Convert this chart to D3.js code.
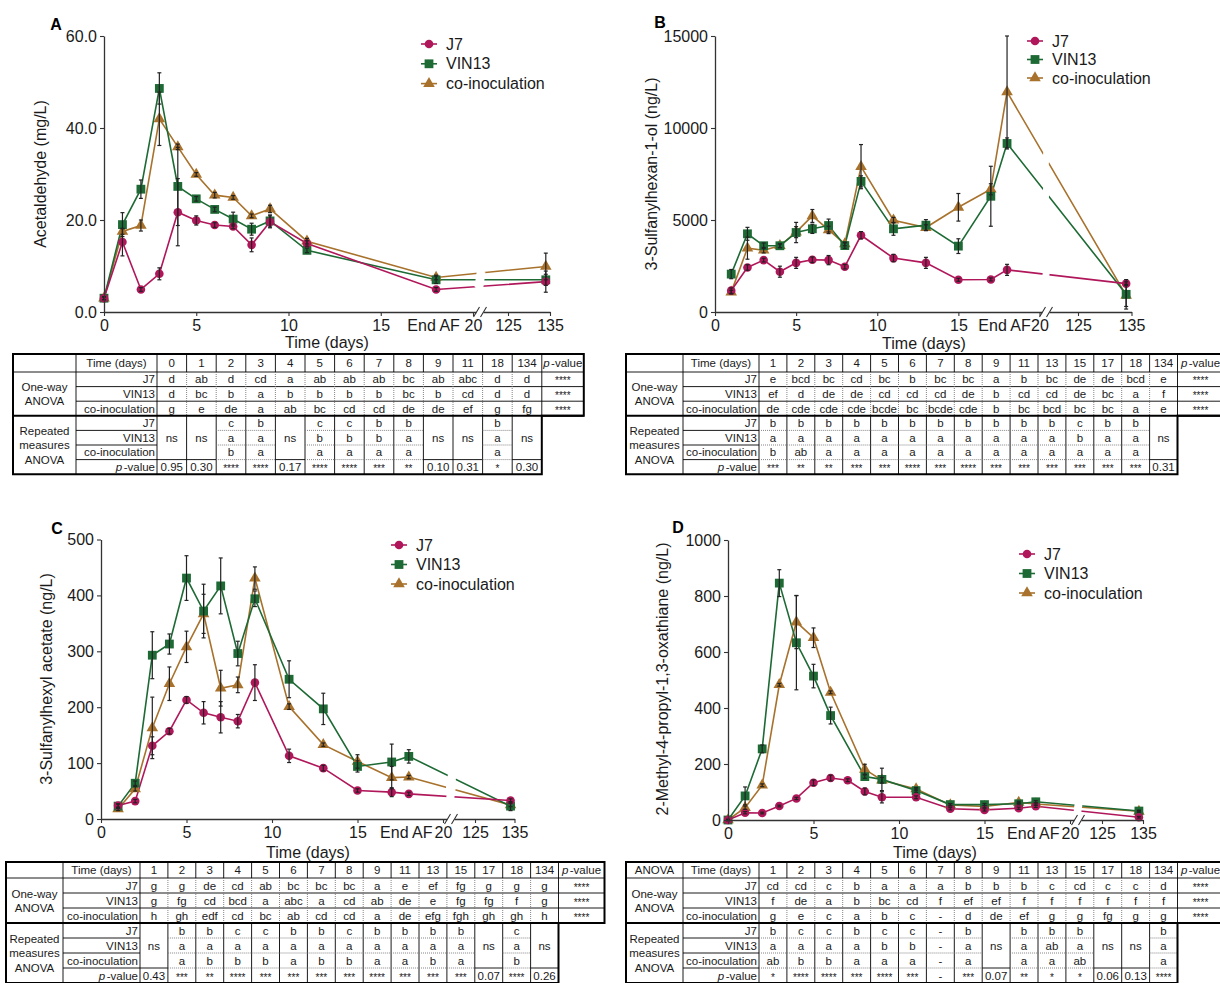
<!DOCTYPE html>
<html><head><meta charset="utf-8">
<script src="https://cdn.jsdelivr.net/npm/d3@7"></script>
<style>
body{margin:0;background:#fff}
svg text{font-family:"Liberation Sans",Arial,Helvetica,sans-serif}
</style>
</head><body>
<svg id="c" width="1220" height="983"></svg>
<script>
// ---------------- DATA ----------------
const seriesNames = ["J7","VIN13","co-inoculation"];
const xTickValues = [0,5,10,15,18,20,125,135];
const xTickLabels = ["0","5","10","15","End AF","20","125","135"];

// Panel A: Acetaldehyde (mg/L)
const aDays = [0,1,2,3,4,5,6,7,8,9,11,18,134];
const aJ7 = [3.0,15.2,4.9,8.3,21.7,19.9,18.9,18.6,14.6,19.6,14.9,4.9,6.6];
const aJ7Err = [0.3,3.0,0.4,1.3,7.3,1.0,0.5,0.5,1.5,1.3,0.6,0.4,2.3];
const aVIN13 = [3.0,19.0,26.7,48.6,27.3,24.6,22.3,20.2,18.0,19.8,13.4,7.0,7.0];
const aVIN13Err = [0.3,2.6,2.0,3.4,8.5,0.5,0.5,1.5,1.3,1.3,0.5,0.8,1.2];
const aCoin = [3.0,17.5,18.8,42.0,35.9,29.9,25.4,24.9,20.9,22.4,15.4,7.5,9.9];
const aCoinErr = [0.3,0.6,1.2,5.8,0.6,0.4,0.6,0.4,0.4,0.8,0.6,0.5,2.9];
const aYTicks = [0,20,40,60];

// Panel B: 3-Sulfanylhexan-1-ol (ng/L)
const bDays = [1,2,3,4,5,6,7,8,9,11,13,15,17,18,134];
const bJ7 = [1160,2420,2820,2190,2670,2840,2820,2460,4170,2930,2670,1750,1770,2290,1540];
const bJ7Err = [150,150,100,300,300,150,250,120,200,200,300,80,80,300,100];
const bVIN13 = [2060,4250,3600,3600,4320,4520,4700,3610,7100,4520,4720,3580,6290,9160,960];
const bVIN13Err = [250,350,150,100,550,250,350,150,300,350,300,400,1630,300,800];
const bCoin = [1080,3470,3360,3600,4340,5220,4460,3700,7900,4990,4590,5690,6670,11960,900];
const bCoinErr = [100,600,150,100,300,350,200,100,1200,150,150,750,300,3040,600];
const bYTicks = [0,5000,10000,15000];

// Panel C: 3-Sulfanylhexyl acetate (ng/L)
const cDays = [1,2,3,4,5,6,7,8,9,11,13,15,17,18,134];
const cJ7 = [24,32,131,157,213,190,182,175,244,113,91,51,48,45,33];
const cJ7Err = [3,3,16,5,6,20,28,12,32,12,5,3,8,3,3];
const cVIN13 = [23,64,293,313,431,372,417,296,394,250,197,94,102,112,23];
const cVIN13Err = [4,4,42,18,40,48,50,22,14,33,28,10,32,12,8];
const cCoin = [18,54,163,242,308,367,234,240,431,201,133,103,74,75,25];
const cCoinErr = [3,4,55,30,28,35,32,14,20,5,3,12,20,3,3];
const cYTicks = [0,100,200,300,400,500];

// Panel D: 2-Methyl-4-propyl-1,3-oxathiane (ng/L)
const dDays = [0,1,2,3,4,5,6,7,8,9,11,13,15,17,18,134];
const dJ7 = [0,26,25,50,77,133,150,142,102,81,81,40,36,42,49,10];
const dJ7Err = [2,4,3,3,4,10,10,5,12,20,5,4,4,4,4,3];
const dVIN13 = [0,86,254,846,633,514,373,null,155,145,105,55,55,58,65,32];
const dVIN13Err = [2,32,14,48,168,42,30,null,6,40,6,4,4,4,4,3];
const dCoin = [0,44,124,483,707,651,456,null,181,142,111,54,48,63,57,31];
const dCoinErr = [2,6,5,5,95,35,5,null,18,10,5,4,4,4,4,3];
const dYTicks = [0,200,400,600,800,1000];

// Table A
const tADays = ["0","1","2","3","4","5","6","7","8","9","11","18","134"];
const tAowJ7 = ["d","ab","d","cd","a","ab","ab","ab","bc","ab","abc","d","d"];
const tAowVIN13 = ["d","bc","b","a","b","b","b","b","bc","b","cd","d","d"];
const tAowCoin = ["g","e","de","a","ab","bc","cd","cd","de","de","ef","g","fg"];
const tAowP = ["****","****","****"];
const tArmJ7 = ["ns","ns","c","b","ns","c","c","b","b","ns","ns","b","ns"];
const tArmVIN13 = ["ns","ns","a","a","ns","b","b","b","a","ns","ns","a","ns"];
const tArmCoin = ["ns","ns","b","a","ns","a","a","a","a","ns","ns","a","ns"];
const tArmP = ["0.95","0.30","****","****","0.17","****","****","***","**","0.10","0.31","*","0.30"];

// Table B
const tBDays = ["1","2","3","4","5","6","7","8","9","11","13","15","17","18","134"];
const tBowJ7 = ["e","bcd","bc","cd","bc","b","bc","bc","a","b","bc","de","de","bcd","e"];
const tBowVIN13 = ["ef","d","de","de","cd","cd","cd","de","b","cd","cd","de","bc","a","f"];
const tBowCoin = ["de","cde","cde","cde","bcde","bc","bcde","cde","b","bc","bcd","bc","bc","a","e"];
const tBowP = ["****","****","****"];
const tBrmJ7 = ["b","b","b","b","b","b","b","b","b","b","b","c","b","b","ns"];
const tBrmVIN13 = ["a","a","a","a","a","a","a","a","a","a","a","b","a","a","ns"];
const tBrmCoin = ["b","ab","a","a","a","a","a","a","a","a","a","a","a","a","ns"];
const tBrmP = ["***","**","**","***","***","****","***","****","***","***","***","***","***","***","0.31"];

// Table C
const tCDays = ["1","2","3","4","5","6","7","8","9","11","13","15","17","18","134"];
const tCowJ7 = ["g","g","de","cd","ab","bc","bc","bc","a","e","ef","fg","g","g","g"];
const tCowVIN13 = ["g","fg","cd","bcd","a","abc","a","cd","ab","de","e","fg","fg","f","g"];
const tCowCoin = ["h","gh","edf","cd","bc","ab","cd","cd","a","de","efg","fgh","gh","gh","h"];
const tCowP = ["****","****","****"];
const tCrmJ7 = ["ns","b","b","c","c","b","b","c","b","b","b","b","ns","c","ns"];
const tCrmVIN13 = ["ns","a","a","a","a","a","a","a","a","a","a","a","ns","a","ns"];
const tCrmCoin = ["ns","a","b","b","b","a","b","b","a","a","b","a","ns","b","ns"];
const tCrmP = ["0.43","***","**","****","***","***","***","***","****","***","***","***","0.07","****","0.26"];

// Table D
const tDDays = ["1","2","3","4","5","6","7","8","9","11","13","15","17","18","134"];
const tDowJ7 = ["cd","cd","c","b","a","a","a","b","b","b","c","cd","c","c","d"];
const tDowVIN13 = ["f","de","a","b","bc","cd","f","ef","ef","f","f","f","f","f","f"];
const tDowCoin = ["g","e","c","a","b","c","-","d","de","ef","g","g","fg","g","g"];
const tDowP = ["****","****","****"];
const tDrmJ7 = ["b","c","c","b","c","c","-","b","ns","b","b","b","ns","ns","b"];
const tDrmVIN13 = ["a","a","a","a","b","b","-","a","ns","a","ab","a","ns","ns","a"];
const tDrmCoin = ["ab","b","b","a","a","a","-","a","ns","a","a","ab","ns","ns","a"];
const tDrmP = ["*","****","****","***","****","***","-","***","0.07","**","*","*","0.06","0.13","****"];

// ---------------- DRAWING ----------------
const svg = d3.select("#c");
const COL = {J7:"#B0175A", VIN13:"#1E6A35", coin:"#A8722D"};
const TXT = "#1a1a1a";

function marker(sel, shape, color, cx, cy){
  if(shape==="circle") sel.append("circle").attr("cx",cx).attr("cy",cy).attr("r",4.3).attr("fill",color);
  else if(shape==="square") sel.append("rect").attr("x",cx-4.4).attr("y",cy-4.4).attr("width",8.8).attr("height",8.8).attr("fill",color);
  else sel.append("path").attr("d",d3.symbol(d3.symbolTriangle,58)()).attr("transform",`translate(${cx},${cy})`).attr("fill",color);
}

function drawPanel(p){
  const g = svg.append("g");
  const x = d3.scaleLinear().domain([0,20,125,135]).range([p.x0,p.x20,p.x125,p.x135]);
  const y = d3.scaleLinear().domain([0,p.yMax]).range([p.yBottom,p.yTop]);
  const series = [
    {name:seriesNames[0], vals:p.j7, errs:p.j7e, color:COL.J7, shape:"circle"},
    {name:seriesNames[1], vals:p.vin, errs:p.vine, color:COL.VIN13, shape:"square"},
    {name:seriesNames[2], vals:p.coin, errs:p.coine, color:COL.coin, shape:"triangle"}];
  series.forEach(s=>{
    s.pts = p.days.map((d,k)=>({d:d, v:s.vals[k], e:s.errs[k]})).filter(o=>o.v!=null);
  });
  const order=[2,1,0];
  order.forEach(i=>{
    const s=series[i];
    g.append("path").attr("d",d3.line().x(o=>x(o.d)).y(o=>y(o.v))(s.pts))
      .attr("fill","none").attr("stroke",s.color).attr("stroke-width",1.6);
  });
  // break gap on lines
  const bx=p.breakX;
  series.forEach(s=>{
    for(let k=1;k<s.pts.length;k++){
      const x1=x(s.pts[k-1].d), x2=x(s.pts[k].d);
      if(x1<bx && x2>bx){
        const y1=y(s.pts[k-1].v), y2=y(s.pts[k].v);
        const yc=y1+(y2-y1)*(bx-x1)/(x2-x1);
        g.append("path").attr("d",`M${bx-5.5},${yc+14}L${bx+1.5},${yc+14}L${bx+5.5},${yc-14}L${bx-1.5},${yc-14}Z`).attr("fill","#fff");
      }
    }
  });
  order.forEach(i=>{
    const s=series[i];
    s.pts.forEach(o=>marker(g,s.shape,s.color,x(o.d),y(o.v)));
  });
  // error bars
  order.forEach(i=>{
    const s=series[i];
    s.pts.forEach(o=>{
      if(!o.e) return;
      const cx=x(o.d), ya=y(o.v-o.e), yb=y(o.v+o.e);
      g.append("line").attr("x1",cx).attr("x2",cx).attr("y1",ya).attr("y2",yb).attr("stroke","#222").attr("stroke-width",1.2);
      [ya,yb].forEach(yy=>g.append("line").attr("x1",cx-2).attr("x2",cx+2).attr("y1",yy).attr("y2",yy).attr("stroke","#222").attr("stroke-width",1.2));
    });
  });
  // axes
  const yg = g.append("g").attr("transform",`translate(${p.x0},0)`)
    .call(d3.axisLeft(y).tickValues(p.yTicks).tickFormat(p.yFmt).tickSize(4).tickSizeOuter(0).tickPadding(3));
  const xg = g.append("g").attr("transform",`translate(0,${p.yBottom})`)
    .call(d3.axisBottom(x).tickValues(xTickValues).tickFormat((d,i)=>xTickLabels[i]).tickSize(4).tickSizeOuter(0).tickPadding(4));
  [yg,xg].forEach(a=>{
    a.attr("font-family",null).attr("font-size",null);
    a.selectAll("text").style("font-size","16px").attr("fill",TXT);
    a.selectAll("line").attr("stroke","#333").attr("stroke-width",1.1);
    a.select(".domain").attr("stroke","#333").attr("stroke-width",1.3);
  });
  xg.selectAll(".tick").filter(d=>d===18).select("line").remove();
  xg.selectAll(".tick").filter(d=>d===18).select("text").attr("dx",-3);
  // axis break marks
  g.append("rect").attr("x",bx-3.5).attr("y",p.yBottom-3).attr("width",7).attr("height",6).attr("fill","#fff");
  [-3.5,3.5].forEach(dx=>g.append("line").attr("x1",bx+dx-3).attr("y1",p.yBottom+5).attr("x2",bx+dx+3).attr("y2",p.yBottom-5).attr("stroke","#333").attr("stroke-width",1.1));
  // titles
  g.append("text").attr("x",p.xTitleX).attr("y",p.xTitleY).attr("text-anchor","middle").attr("dominant-baseline","central")
    .style("font-size","16px").attr("fill",TXT).text("Time (days)");
  g.append("text").attr("transform",`translate(${p.yTitleX},${p.yTitleY}) rotate(-90)`).attr("text-anchor","middle").attr("dominant-baseline","central")
    .style("font-size","16px").attr("fill",TXT).text(p.yTitle);
  g.append("text").attr("x",p.letterX).attr("y",p.letterY).attr("text-anchor","middle").attr("dominant-baseline","central")
    .style("font-size","16px").style("font-weight","bold").attr("fill","#000").text(p.letter);
  // legend
  series.forEach((s,i)=>{
    const ly=p.legY+i*p.legDy;
    g.append("line").attr("x1",p.legX-8).attr("x2",p.legX+8).attr("y1",ly).attr("y2",ly).attr("stroke",s.color).attr("stroke-width",1.6);
    marker(g,s.shape,s.color,p.legX,ly);
    g.append("text").attr("x",p.legX+17).attr("y",ly).attr("dominant-baseline","central").style("font-size","16px").attr("fill",TXT).text(s.name);
  });
}

function drawTable(t){
  const g = svg.append("g").style("font-size","11.5px").attr("fill",TXT);
  const n=t.days.length;
  const xG=t.x0, xL=xG+t.groupW, xD=xL+t.labelW, xP=xD+n*t.colW, xE=xP+t.pW;
  const y0=t.y0, y1=y0+t.headerH, rh=t.rowH;
  const rt=i=>y1+(i-1)*rh;
  const yOne=rt(4), yEnd=rt(8);
  const cx=i=>xD+i*t.colW;
  const L=(a,b,c,d,st)=>{
    const l=g.append("line").attr("x1",a).attr("y1",b).attr("x2",c).attr("y2",d);
    if(st==="dot") l.attr("stroke","#777").attr("stroke-width",0.9).attr("stroke-dasharray","1,1");
    else l.attr("stroke","#000").attr("stroke-width",0.9);
  };
  const T=(x,y,s,anchor,size)=>{
    const tx=g.append("text").attr("x",x).attr("y",y).attr("text-anchor",anchor||"middle").attr("dominant-baseline","central").text(s);
    if(size) tx.style("font-size",size);
    return tx;
  };
  const PV=(x,y,anchor)=>{
    const tx=g.append("text").attr("x",x).attr("y",y).attr("text-anchor",anchor).attr("dominant-baseline","central");
    tx.append("tspan").style("font-style","italic").text("p");
    tx.append("tspan").attr("dx",1.5).text("-value");
  };
  // grid
  L(xG,y1,xE,y1,"thin");
  L(xL,y0,xL,yEnd,"thin");
  L(xD,y0,xD,yEnd,"thin");
  for(let i=1;i<n;i++) L(cx(i),y0,cx(i),y1,"thin");
  L(xP,y0,xP,yOne,"thin");
  for(let r=2;r<=3;r++) L(xL,rt(r),xE,rt(r),"thin");
  for(let i=1;i<n;i++) L(cx(i),y1,cx(i),yOne,"dot");
  for(let i=1;i<n;i++) L(cx(i),yOne,cx(i),yEnd,"thin");
  for(let r=5;r<=7;r++) L(xL,rt(r),xD,rt(r),"thin");
  for(let i=0;i<n;i++){
    if(t.rm[0][i]!=="ns"){
      [5,6,7].forEach(r=>L(cx(i),rt(r),cx(i+1),rt(r),"dot"));
    } else L(cx(i),rt(7),cx(i+1),rt(7),"thin");
  }
  g.append("line").attr("x1",xG).attr("x2",xE).attr("y1",yOne).attr("y2",yOne).attr("stroke","#000").attr("stroke-width",2);
  g.append("path").attr("d",`M${xG},${y0}H${xE}V${yOne}H${xP}V${yEnd}H${xG}Z`).attr("fill","none").attr("stroke","#000").attr("stroke-width",2);
  // header text
  const yh=(y0+y1)/2;
  if(t.corner) T((xG+xL)/2,yh,t.corner);
  T((xL+xD)/2,yh,"Time (days)");
  t.days.forEach((d,i)=>T(cx(i)+t.colW/2,yh,d));
  PV((xP+xE)/2,yh,"middle");
  // group labels
  const ow=(y1+yOne)/2;
  T((xG+xL)/2,ow-7,"One-way"); T((xG+xL)/2,ow+7,"ANOVA");
  const rm=(yOne+yEnd)/2;
  T((xG+xL)/2,rm-14.5,"Repeated"); T((xG+xL)/2,rm,"measures"); T((xG+xL)/2,rm+14.5,"ANOVA");
  // row labels
  const rl=["J7","VIN13","co-inoculation"];
  rl.forEach((s,k)=>{T(xD-2,rt(k+1)+rh/2,s,"end"); T(xD-2,rt(k+4)+rh/2,s,"end");});
  PV(xD-2,rt(7)+rh/2,"end");
  // one-way data
  t.ow.forEach((row,k)=>row.forEach((s,i)=>T(cx(i)+t.colW/2,rt(k+1)+rh/2,s)));
  t.owP.forEach((s,k)=>T((xP+xE)/2,rt(k+1)+rh/2+1.5,s,"middle","10px"));
  // repeated measures
  for(let i=0;i<n;i++){
    const mx=cx(i)+t.colW/2;
    if(t.rm[0][i]==="ns") T(mx,(yOne+rt(7))/2,"ns");
    else t.rm.forEach((row,k)=>T(mx,rt(k+4)+rh/2,row[i]));
    const pv=t.rmP[i];
    if(/^\*+$/.test(pv)) T(mx,rt(7)+rh/2+1.5,pv,"middle","10px");
    else T(mx,rt(7)+rh/2,pv);
  }
}

drawPanel({letter:"A",letterX:56,letterY:24,x0:104,x20:473,x125:508,x135:550,yTop:36,yBottom:312,yMax:60,
  yTicks:aYTicks,yFmt:d3.format(".1f"),yTitle:"Acetaldehyde (mg/L)",yTitleX:40,yTitleY:174,xTitleX:327,xTitleY:342,
  legX:429,legY:44,legDy:19.8,breakX:480,days:aDays,j7:aJ7,j7e:aJ7Err,vin:aVIN13,vine:aVIN13Err,coin:aCoin,coine:aCoinErr});
drawPanel({letter:"B",letterX:660,letterY:22,x0:715,x20:1039.5,x125:1078,x135:1131.5,yTop:36,yBottom:312,yMax:15000,
  yTicks:bYTicks,yFmt:d3.format("d"),yTitle:"3-Sulfanylhexan-1-ol (ng/L)",yTitleX:651,yTitleY:174,xTitleX:924,xTitleY:343,
  legX:1035,legY:41,legDy:18.5,breakX:1046,days:bDays,j7:bJ7,j7e:bJ7Err,vin:bVIN13,vine:bVIN13Err,coin:bCoin,coine:bCoinErr});
drawPanel({letter:"C",letterX:57,letterY:528,x0:101,x20:443,x125:475,x135:514.5,yTop:539.5,yBottom:819,yMax:500,
  yTicks:cYTicks,yFmt:d3.format("d"),yTitle:"3-Sulfanylhexyl acetate (ng/L)",yTitleX:46,yTitleY:679,xTitleX:308,xTitleY:852,
  legX:399,legY:545,legDy:19.5,breakX:451,days:cDays,j7:cJ7,j7e:cJ7Err,vin:cVIN13,vine:cVIN13Err,coin:cCoin,coine:cCoinErr});
drawPanel({letter:"D",letterX:678,letterY:527,x0:728,x20:1070,x125:1102,x135:1143,yTop:540,yBottom:820,yMax:1000,
  yTicks:dYTicks,yFmt:d3.format("d"),yTitle:"2-Methyl-4-propyl-1,3-oxathiane (ng/L)",yTitleX:662,yTitleY:679,xTitleX:935,xTitleY:852,
  legX:1027,legY:554,legDy:19.5,breakX:1078,days:dDays,j7:dJ7,j7e:dJ7Err,vin:dVIN13,vine:dVIN13Err,coin:dCoin,coine:dCoinErr});

drawTable({x0:13,groupW:63,labelW:81,colW:29.6,pW:42,y0:354,headerH:18,rowH:14.6,corner:"",
  days:tADays,ow:[tAowJ7,tAowVIN13,tAowCoin],owP:tAowP,rm:[tArmJ7,tArmVIN13,tArmCoin],rmP:tArmP});
drawTable({x0:626,groupW:57,labelW:76,colW:27.9,pW:46,y0:354,headerH:18,rowH:14.6,corner:"",
  days:tBDays,ow:[tBowJ7,tBowVIN13,tBowCoin],owP:tBowP,rm:[tBrmJ7,tBrmVIN13,tBrmCoin],rmP:tBrmP});
drawTable({x0:6,groupW:57,labelW:77,colW:27.9,pW:46,y0:862,headerH:16,rowH:15,corner:"",
  days:tCDays,ow:[tCowJ7,tCowVIN13,tCowCoin],owP:tCowP,rm:[tCrmJ7,tCrmVIN13,tCrmCoin],rmP:tCrmP});
drawTable({x0:626,groupW:57,labelW:76,colW:27.9,pW:46,y0:862,headerH:16,rowH:15,corner:"ANOVA",
  days:tDDays,ow:[tDowJ7,tDowVIN13,tDowCoin],owP:tDowP,rm:[tDrmJ7,tDrmVIN13,tDrmCoin],rmP:tDrmP});
</script>
</body></html>
